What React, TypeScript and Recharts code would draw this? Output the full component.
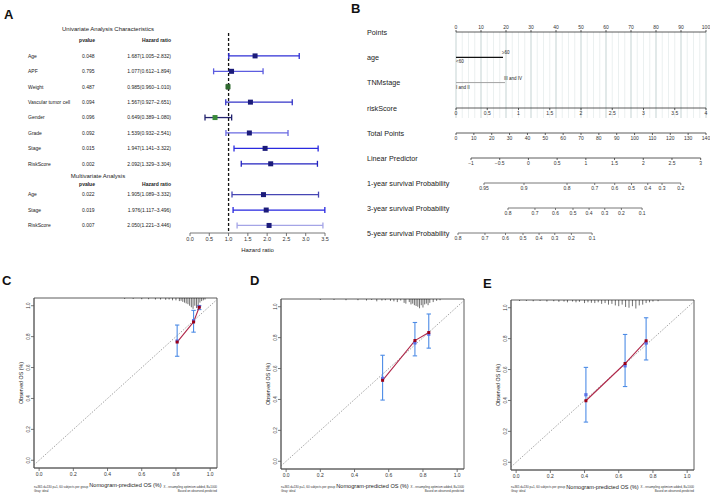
import React from 'react';
import {
  ScatterChart, Scatter, XAxis, YAxis, ErrorBar, ReferenceLine, ReferenceArea,
  ComposedChart, Line, LineChart, LabelList,
} from 'recharts';

const FONT = '"Liberation Sans", Arial, Helvetica, sans-serif';

// ---------------- Panel A: forest plot ----------------
const uniNames = ['Age', 'APF', 'Weight', 'Vascular tumor cell', 'Gender', 'Grade', 'Stage', 'RiskScore'];
const uniPvalues = ['0.048', '0.795', '0.487', '0.094', '0.096', '0.092', '0.015', '0.002'];
const uniHR = [1.687, 1.077, 0.985, 1.567, 0.649, 1.539, 1.947, 2.092];
const uniLower = [1.005, 0.612, 0.960, 0.927, 0.389, 0.932, 1.141, 1.329];
const uniUpper = [2.832, 1.894, 1.010, 2.651, 1.080, 2.541, 3.322, 3.304];

const multiNames = ['Age', 'Stage', 'RiskScore'];
const multiPvalues = ['0.022', '0.019', '0.007'];
const multiHR = [1.905, 1.976, 2.050];
const multiLower = [1.089, 1.117, 1.221];
const multiUpper = [3.332, 3.496, 3.446];

const hrTicks = [0, 0.5, 1, 1.5, 2, 2.5, 3, 3.5];

const uniBarColors = ['#2f2fd6', '#5c5ce0', '#333333', '#3434c8', '#22226e', '#6a6ae2', '#2a2ae0', '#2323c0'];
const uniPointColors = ['#1b1b7a', '#1b1b7a', '#2e6a2e', '#1b1b7a', '#3a8a3a', '#1b1b7a', '#1b1b7a', '#1b1b7a'];
const multiBarColors = ['#4646b4', '#2525e0', '#a4a4e6'];
const multiPointColors = ['#1b1b7a', '#1b1b7a', '#1b1b7a'];

// ---------------- Panel B: nomogram ----------------
const pointsTicks = [0, 10, 20, 30, 40, 50, 60, 70, 80, 90, 100];
const ageLevels = ['<60', '\u226560'];
const agePoints = [0, 18.8];
const tnmLevels = ['I and II', 'III and IV'];
const tnmPoints = [0, 19.6];
const riskTicks = [0, 0.5, 1, 1.5, 2, 2.5, 3, 3.5, 4];
const totalTicks = [0, 10, 20, 30, 40, 50, 60, 70, 80, 90, 100, 110, 120, 130, 140];
const lpTicks = [-1, -0.5, 0, 0.5, 1, 1.5, 2, 2.5, 3];
const surv1Labels = ['0.95', '0.9', '0.8', '0.7', '0.6', '0.5', '0.4', '0.3', '0.2'];
const surv1Points = [15.8, 38.2, 62.3, 77.8, 89.0, 98.4, 107.5, 115.5, 126.0];
const surv3Labels = ['0.8', '0.7', '0.6', '0.5', '0.4', '0.3', '0.2', '0.1'];
const surv3Points = [29.1, 44.2, 55.7, 65.5, 74.5, 83.3, 92.6, 104.2];
const surv5Labels = ['0.8', '0.7', '0.6', '0.5', '0.4', '0.3', '0.2', '0.1'];
const surv5Points = [1.1, 16.2, 27.7, 37.5, 46.5, 55.3, 64.6, 76.2];
const nomoRowNames = ['Points', 'age', 'TNMstage', 'riskScore', 'Total Points', 'Linear Predictor',
  '1-year survival Probability', '3-year survival Probability', '5-year survival Probability'];

// ---------------- Panels C, D, E: calibration ----------------
const calTicks = [0, 0.2, 0.4, 0.6, 0.8, 1.0];
const cPred = [0.807, 0.903, 0.936];
const cRed = [0.765, 0.895, 0.99];
const cBlue = [0.772, 0.903, 0.995];
const cLow = [0.673, 0.829, 0.975];
const cHigh = [0.875, 0.970, 1.0];
const dPred = [0.564, 0.753, 0.834];
const dRed = [0.524, 0.781, 0.833];
const dBlue = [0.537, 0.766, 0.822];
const dLow = [0.396, 0.682, 0.732];
const dHigh = [0.686, 0.898, 0.953];
const ePred = [0.408, 0.637, 0.76];
const eRed = [0.398, 0.639, 0.786];
const eBlue = [0.437, 0.624, 0.771];
const eLow = [0.26, 0.49, 0.662];
const eHigh = [0.614, 0.827, 0.935];

const rugCx = [0.50, 0.55, 0.60, 0.64, 0.68, 0.71, 0.74, 0.76, 0.78, 0.80, 0.82, 0.83, 0.84, 0.85, 0.86, 0.87, 0.88, 0.89, 0.90, 0.91, 0.92, 0.93, 0.94, 0.95, 0.96, 0.97];
const rugCh = [0.006, 0.006, 0.008, 0.008, 0.01, 0.01, 0.012, 0.01, 0.015, 0.015, 0.02, 0.018, 0.025, 0.03, 0.035, 0.04, 0.05, 0.06, 0.07, 0.05, 0.065, 0.045, 0.03, 0.02, 0.015, 0.01];
const rugDx = [0.20, 0.28, 0.35, 0.42, 0.47, 0.50, 0.53, 0.56, 0.58, 0.61, 0.63, 0.65, 0.67, 0.69, 0.70, 0.72, 0.73, 0.74, 0.75, 0.76, 0.77, 0.78, 0.79, 0.80, 0.81, 0.82, 0.83, 0.84, 0.86, 0.88, 0.90];
const rugDh = [0.006, 0.006, 0.008, 0.008, 0.01, 0.006, 0.015, 0.01, 0.008, 0.012, 0.015, 0.02, 0.01, 0.025, 0.03, 0.02, 0.035, 0.03, 0.04, 0.045, 0.05, 0.06, 0.04, 0.055, 0.035, 0.03, 0.04, 0.025, 0.02, 0.012, 0.008];
const rugEx = [0.02, 0.06, 0.10, 0.14, 0.18, 0.22, 0.25, 0.28, 0.30, 0.33, 0.35, 0.37, 0.40, 0.42, 0.44, 0.46, 0.48, 0.50, 0.52, 0.54, 0.56, 0.58, 0.60, 0.62, 0.64, 0.66, 0.68, 0.70, 0.72, 0.74, 0.76, 0.78, 0.80, 0.83];
const rugEh = [0.006, 0.006, 0.008, 0.006, 0.01, 0.008, 0.012, 0.01, 0.015, 0.01, 0.015, 0.012, 0.02, 0.015, 0.018, 0.02, 0.015, 0.025, 0.02, 0.03, 0.025, 0.035, 0.04, 0.03, 0.045, 0.05, 0.04, 0.055, 0.035, 0.03, 0.02, 0.015, 0.01, 0.008];

const footLeft = ['n=365 d=130 p=1, 60 subjects per group', 'Gray: ideal'];
const footRight = ['X - resampling optimism added, B=1000', 'Based on observed-predicted'];

// ---------------- helpers ----------------
const fmtHR = (hr: number, lo: number, hi: number) => `${hr.toFixed(3)}(${lo.toFixed(3)}\u2013${hi.toFixed(3)})`;

type Row = { idx: number; name: string; p: string; hr: number; err: number[]; label: string; bar: string; pt: string; y: number };
const forestRows: Row[] = [
  ...uniNames.map((n, i) => ({
    idx: i, y: i, name: n, p: uniPvalues[i], hr: uniHR[i], err: [uniHR[i] - uniLower[i], uniUpper[i] - uniHR[i]],
    label: fmtHR(uniHR[i], uniLower[i], uniUpper[i]), bar: uniBarColors[i], pt: uniPointColors[i],
  })),
  ...multiNames.map((n, i) => ({
    idx: 9 + i, y: 9 + i, name: n, p: multiPvalues[i], hr: multiHR[i], err: [multiHR[i] - multiLower[i], multiUpper[i] - multiHR[i]],
    label: fmtHR(multiHR[i], multiLower[i], multiUpper[i]), bar: multiBarColors[i], pt: multiPointColors[i],
  })),
];
const UNI_TITLE = -1.75, UNI_HEAD = -1, MULTI_TITLE = 7.8, MULTI_HEAD = 8.3;
const forestTicks = [UNI_TITLE, UNI_HEAD, ...forestRows.map(r => r.idx), MULTI_TITLE, MULTI_HEAD].sort((a, b) => a - b);

const ForestTick = (props: any) => {
  const { y, payload } = props;
  const v = payload.value;
  const row = forestRows.find(r => r.idx === v);
  const common = { fontFamily: FONT, fill: '#222' };
  if (row) {
    return (
      <g {...common} fontSize={5}>
        <text x={28} y={y} dy={1.8}>{row.name}</text>
        <text x={82} y={y} dy={1.8}>{row.p}</text>
        <text x={171} y={y} dy={1.8} textAnchor="end">{row.label}</text>
      </g>
    );
  }
  if (v === UNI_TITLE) return <text {...common} x={108} y={y} dy={2} fontSize={6} textAnchor="middle">Univariate Analysis Characteristics</text>;
  if (v === MULTI_TITLE) return <text {...common} x={98} y={y} dy={2} fontSize={6} textAnchor="middle">Multivariate Analysis</text>;
  if (v === UNI_HEAD || v === MULTI_HEAD) {
    return (
      <g {...common} fontSize={5} fontWeight="bold">
        <text x={87} y={y} dy={1.8} textAnchor="middle">pvalue</text>
        <text x={171} y={y} dy={1.8} textAnchor="end">Hazard ratio</text>
      </g>
    );
  }
  return <g />;
};

const PAD = 12;
const PL = 456; // points axis left pixel
const PW = 250; // points axis width
const TP_MAX = 140;

function NomoAxis({ x0, x1, axisY, domain, ticks, fmt, top = false, color = '#333' }: any) {
  const width = x1 - x0 + 2 * PAD;
  return (
    <div style={{ position: 'absolute', left: x0 - PAD, top: top ? axisY - 15 : axisY - 1 }}>
      <LineChart width={width} height={16} data={ticks.map((t: number) => ({ t }))} margin={{ top: 0, right: PAD, bottom: 0, left: PAD }}>
        <XAxis dataKey="t" type="number" domain={domain} ticks={ticks} interval={0} tickFormatter={fmt}
          orientation={top ? 'top' : 'bottom'} height={15} tickSize={2} tickMargin={1} stroke={color} strokeWidth={0.8}
          tick={{ fontSize: 5, fill: '#333', fontFamily: FONT }} allowDataOverflow />
        <YAxis hide domain={[0, 1]} />
      </LineChart>
    </div>
  );
}

function SurvAxis({ labels, pts, axisY }: any) {
  const lo = Math.min(...pts), hi = Math.max(...pts);
  return (
    <NomoAxis x0={PL + (lo / TP_MAX) * PW} x1={PL + (hi / TP_MAX) * PW} axisY={axisY} domain={[lo, hi]} ticks={pts}
      fmt={(v: number) => labels[pts.indexOf(v)]} color="#555" />
  );
}

const gridMinor: number[] = [];
for (let g = 0; g <= 100; g += 2.5) gridMinor.push(g);

function Nomogram() {
  const ageData = ageLevels.map((l, i) => ({ p: agePoints[i], row: 1, label: l }));
  const tnmData = tnmLevels.map((l, i) => ({ p: tnmPoints[i], row: 2, label: l }));
  const lvlLabel = (p: any) => {
    const { x, y, value, index } = p;
    return index === 0
      ? <text x={x} y={y + 6} fontSize={4.5} fontFamily={FONT} fill="#222">{value}</text>
      : <text x={x - 1} y={y - 3} fontSize={4.5} fontFamily={FONT} fill="#222">{value}</text>;
  };
  return (
    <>
      <div style={{ position: 'absolute', left: PL - PAD, top: 17 }}>
        <ComposedChart width={PW + 2 * PAD} height={101} margin={{ top: 0, right: PAD, bottom: 0, left: PAD }}>
          <XAxis dataKey="p" type="number" domain={[0, 100]} ticks={pointsTicks} interval={0} orientation="top"
            height={15} tickSize={2} tickMargin={1} stroke="#333" strokeWidth={0.8}
            tick={{ fontSize: 5, fill: '#333', fontFamily: FONT }} />
          <YAxis hide type="number" domain={[0, 3.4]} reversed />
          {gridMinor.map(g => (
            <ReferenceLine key={g} x={g} stroke={g % 10 === 0 ? '#c5d3d3' : '#dde5e5'} strokeWidth={g % 10 === 0 ? 1 : 0.6} />
          ))}
          <Line data={ageData} dataKey="row" stroke="#111" strokeWidth={1.2} dot={false} isAnimationActive={false}>
            <LabelList dataKey="label" content={lvlLabel} />
          </Line>
          <Line data={tnmData} dataKey="row" stroke="#999" strokeWidth={0.9} dot={false} isAnimationActive={false}>
            <LabelList dataKey="label" content={lvlLabel} />
          </Line>
        </ComposedChart>
      </div>
      <NomoAxis x0={PL} x1={PL + PW} axisY={108} domain={[0, 4]} ticks={riskTicks} fmt={(v: number) => String(v)} />
      <NomoAxis x0={PL} x1={PL + PW} axisY={133} domain={[0, 140]} ticks={totalTicks} fmt={(v: number) => String(v)} />
      <NomoAxis x0={471} x1={700.7} axisY={158} domain={[-1, 3]} ticks={lpTicks} fmt={(v: number) => String(v).replace('-', '\u2212')} />
      <SurvAxis labels={surv1Labels} pts={surv1Points} axisY={183} />
      <SurvAxis labels={surv3Labels} pts={surv3Points} axisY={208} />
      <SurvAxis labels={surv5Labels} pts={surv5Points} axisY={233} />
    </>
  );
}

const X_DOM = [-0.03, 1.04];
const Y_DOM = [-0.05, 1.05];

const RotTick = (props: any) => {
  const { x, y, payload } = props;
  return (
    <text x={x} y={y} transform={`rotate(-90 ${x} ${y})`} textAnchor="middle" fontSize={4.5} fill="#333" fontFamily={FONT}>
      {Number(payload.value).toFixed(1)}
    </text>
  );
};

function CalPanel({ left, top, pred, red, blue, lo, hi, rugX, rugH }: any) {
  const data = pred.map((p: number, i: number) => ({ p, red: red[i], blue: blue[i], err: [blue[i] - lo[i], hi[i] - blue[i]] }));
  const rug = rugX.map((x: number, i: number) => ({ p: x, top: Y_DOM[1], len: [rugH[i], 0] }));
  return (
    <div style={{ position: 'absolute', left, top }}>
      <ComposedChart width={212} height={204} margin={{ top: 8, right: 5, bottom: 0, left: 0 }}>
        <XAxis dataKey="p" type="number" domain={X_DOM} ticks={calTicks} interval={0} tickFormatter={(v: number) => v.toFixed(1)}
          height={26} tickSize={3} tickMargin={1} stroke="#555" strokeWidth={0.8} allowDataOverflow
          tick={{ fontSize: 5, fill: '#333', fontFamily: FONT }}
          label={{ value: 'Nomogram-predicted OS (%)', position: 'insideBottom', offset: 7, fontSize: 5.6, fill: '#222', fontFamily: FONT }} />
        <YAxis type="number" domain={Y_DOM} ticks={calTicks} interval={0} width={24} tickSize={3} tickMargin={1}
          stroke="#555" strokeWidth={0.8} allowDataOverflow tick={RotTick}
          label={{ value: 'Observed OS (%)', angle: -90, position: 'center', dx: -1, fontSize: 5.3, fill: '#222', fontFamily: FONT }} />
        <ReferenceArea x1={X_DOM[0]} x2={X_DOM[1]} y1={Y_DOM[0]} y2={Y_DOM[1]} fill="none" stroke="#333" strokeWidth={0.8} />
        <ReferenceLine segment={[{ x: -0.03, y: -0.03 }, { x: 1.04, y: 1.04 }]} stroke="#8a8a8a" strokeWidth={0.8} strokeDasharray="1.5 1.5" />
        <Scatter data={rug} dataKey="top" isAnimationActive={false} shape={() => <g />}>
          <ErrorBar dataKey="len" direction="y" width={0} stroke="#111" strokeWidth={0.6} />
        </Scatter>
        <Scatter data={data} dataKey="blue" isAnimationActive={false}
          shape={(p: any) => <rect x={p.cx - 1.6} y={p.cy - 1.6} width={3.2} height={3.2} fill="#5a72e6" />}>
          <ErrorBar dataKey="err" direction="y" width={2.2} stroke="#4d8ce6" strokeWidth={1.1} />
        </Scatter>
        <Line data={data} dataKey="red" stroke="#b0284a" strokeWidth={1.1} isAnimationActive={false}
          dot={(p: any) => <rect key={p.index} x={p.cx - 1.5} y={p.cy - 1.5} width={3} height={3} fill="#9a0018" />} />
      </ComposedChart>
    </div>
  );
}

export default function App() {
  const calPanels = [
    { left: 10, top: 290, pl: 34, pr: 217 },
    { left: 257, top: 291, pl: 281, pr: 464 },
    { left: 487, top: 292, pl: 511, pr: 694 },
  ];
  const nomoRowY = [32, 57, 82, 108, 133, 158, 183, 208, 233];
  return (
    <div style={{ position: 'absolute', left: 0, top: 0, width: 710, height: 495, background: '#fff', overflow: 'hidden', fontFamily: FONT }}>
      {/* Panel A */}
      <div style={{ position: 'absolute', left: 0, top: 0 }}>
        <ScatterChart width={340} height={260} margin={{ top: 22, right: 15, bottom: 0, left: 0 }}>
          <XAxis type="number" dataKey="hr" domain={[0, 3.5]} ticks={hrTicks} interval={0} tickFormatter={(v: number) => v.toFixed(1)}
            height={27} tickSize={3} tickMargin={1} stroke="#555" strokeWidth={0.8}
            tick={{ fontSize: 5.5, fill: '#333', fontFamily: FONT }}
            label={{ value: 'Hazard ratio', position: 'insideBottom', offset: 8, fontSize: 6, fill: '#222', fontFamily: FONT }} />
          <YAxis type="number" dataKey="y" domain={[-2.2, 11.49]} reversed ticks={forestTicks} interval={0} width={190}
            axisLine={false} tickLine={false} tick={ForestTick} allowDataOverflow />
          <ReferenceLine segment={[{ x: 1, y: -1.49 }, { x: 1, y: 11.49 }]} stroke="#111" strokeWidth={1.3} strokeDasharray="3 2" />
          {forestRows.map(r => (
            <Scatter key={r.idx} data={[r]} isAnimationActive={false}
              shape={(p: any) => <rect x={p.cx - 2.5} y={p.cy - 2.5} width={5} height={5} fill={r.pt} />}>
              <ErrorBar dataKey="err" direction="x" width={3} stroke={r.bar} strokeWidth={1.3} />
            </Scatter>
          ))}
        </ScatterChart>
      </div>

      {/* Panel B */}
      <Nomogram />

      {/* Panels C, D, E */}
      <CalPanel left={calPanels[0].left} top={calPanels[0].top} pred={cPred} red={cRed} blue={cBlue} lo={cLow} hi={cHigh} rugX={rugCx} rugH={rugCh} />
      <CalPanel left={calPanels[1].left} top={calPanels[1].top} pred={dPred} red={dRed} blue={dBlue} lo={dLow} hi={dHigh} rugX={rugDx} rugH={rugDh} />
      <CalPanel left={calPanels[2].left} top={calPanels[2].top} pred={ePred} red={eRed} blue={eBlue} lo={eLow} hi={eHigh} rugX={rugEx} rugH={rugEh} />

      {/* text overlay */}
      <svg width={710} height={495} style={{ position: 'absolute', left: 0, top: 0, pointerEvents: 'none' }} fontFamily={FONT}>
        <text x={4} y={19} fontSize={13} fontWeight="bold" fill="#111">A</text>
        <text x={351} y={13} fontSize={13} fontWeight="bold" fill="#111">B</text>
        <text x={2} y={285} fontSize={13} fontWeight="bold" fill="#111">C</text>
        <text x={250} y={285} fontSize={13} fontWeight="bold" fill="#111">D</text>
        <text x={483} y={288} fontSize={13} fontWeight="bold" fill="#111">E</text>
        {nomoRowNames.map((n, i) => (
          <text key={n} x={367} y={nomoRowY[i]} dy={2.6} fontSize={7.2} fill="#222">{n}</text>
        ))}
        {calPanels.map((c, k) => (
          <g key={k} fontSize={3} fill="#333">
            <text x={c.pl} y={488}>{footLeft[0]}</text>
            <text x={c.pl} y={491.5}>{footLeft[1]}</text>
            <text x={c.pr} y={488} textAnchor="end">{footRight[0]}</text>
            <text x={c.pr} y={491.5} textAnchor="end">{footRight[1]}</text>
          </g>
        ))}
      </svg>
    </div>
  );
}
